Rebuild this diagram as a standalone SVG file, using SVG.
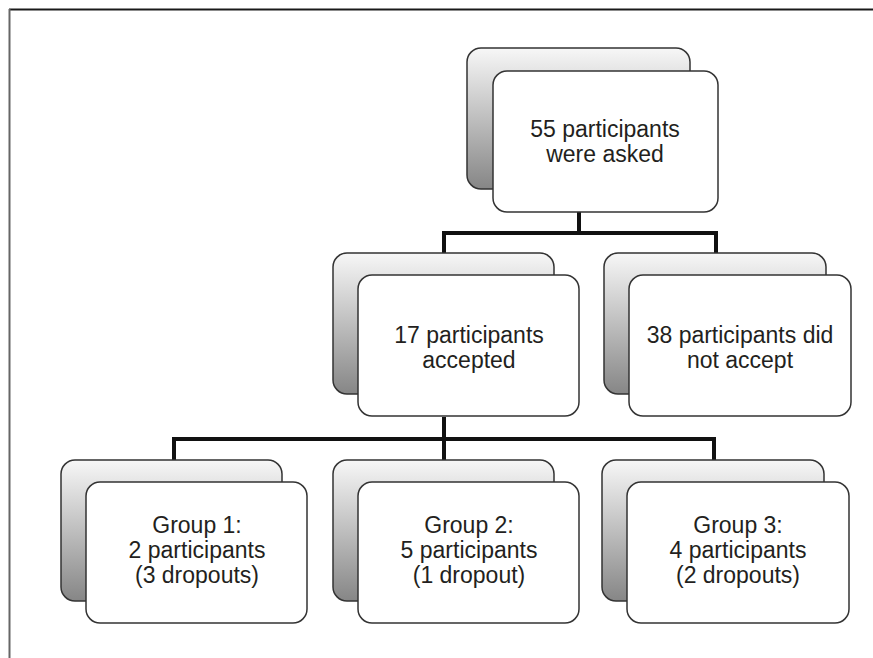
<svg xmlns="http://www.w3.org/2000/svg" width="873" height="658" viewBox="0 0 873 658">
<defs>
<linearGradient id="g" x1="0" y1="0" x2="0" y2="1">
<stop offset="0" stop-color="#f7f7f7"/>
<stop offset="1" stop-color="#868686"/>
</linearGradient>
<style>
.back{fill:url(#g);stroke:#333;stroke-width:1.5}
.front{fill:#fff;stroke:#333;stroke-width:1.5}
.t{font-family:"Liberation Sans",Arial,sans-serif;font-size:23px;fill:#231f20;text-anchor:middle}
.c{fill:none;stroke:#111;stroke-width:4}
</style>
</defs>
<rect width="873" height="658" fill="#fff"/>
<line x1="9" y1="9.5" x2="873" y2="9.5" stroke="#1a1a1a" stroke-width="1.8"/>
<line x1="9.5" y1="9" x2="9.5" y2="658" stroke="#666" stroke-width="2"/>
<g id="connectors">
<path class="c" d="M579 212V233M444 253V233H716V253"/>
<path class="c" d="M444 417V439M174 460V439H714V460M444 439V460"/>
</g>
<g id="n1">
<rect class="back" x="467" y="48" width="223" height="141" rx="14"/>
<rect class="front" x="493" y="71" width="225" height="141" rx="14"/>
<text class="t" x="605" y="137">55 participants</text>
<text class="t" x="605" y="162">were asked</text>
</g>
<g id="n2">
<rect class="back" x="333" y="253" width="221" height="141" rx="14"/>
<rect class="front" x="358" y="275" width="221" height="141" rx="14"/>
<text class="t" x="469" y="343">17 participants</text>
<text class="t" x="469" y="368">accepted</text>
</g>
<g id="n3">
<rect class="back" x="604" y="253" width="222" height="141" rx="14"/>
<rect class="front" x="629" y="275" width="222" height="141" rx="14"/>
<text class="t" x="740" y="343">38 participants did</text>
<text class="t" x="740" y="368">not accept</text>
</g>
<g id="n4">
<rect class="back" x="61" y="460" width="221" height="141" rx="14"/>
<rect class="front" x="86" y="482" width="221" height="141" rx="14"/>
<text class="t" x="197" y="533">Group 1:</text>
<text class="t" x="197" y="558">2 participants</text>
<text class="t" x="197" y="583">(3 dropouts)</text>
</g>
<g id="n5">
<rect class="back" x="333" y="460" width="221" height="141" rx="14"/>
<rect class="front" x="358" y="482" width="221" height="141" rx="14"/>
<text class="t" x="469" y="533">Group 2:</text>
<text class="t" x="469" y="558">5 participants</text>
<text class="t" x="469" y="583">(1 dropout)</text>
</g>
<g id="n6">
<rect class="back" x="602" y="460" width="222" height="141" rx="14"/>
<rect class="front" x="627" y="482" width="222" height="141" rx="14"/>
<text class="t" x="738" y="533">Group 3:</text>
<text class="t" x="738" y="558">4 participants</text>
<text class="t" x="738" y="583">(2 dropouts)</text>
</g>
</svg>
